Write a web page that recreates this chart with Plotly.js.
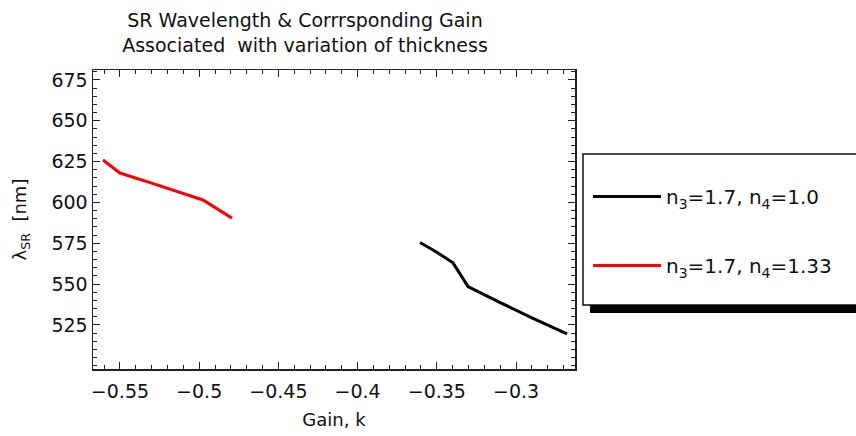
<!DOCTYPE html>
<html>
<head>
<meta charset="utf-8">
<script src="https://cdn.plot.ly/plotly-3.0.1.min.js"></script>
<style>html,body{margin:0;padding:0;background:#fff;}#chart{width:856px;height:436px;}</style>
</head>
<body>
<div id="chart"></div>
<script>
// Series: n3=1.7, n4=1.0 (black)
var gainA = [-0.3606, -0.35, -0.3398, -0.335, -0.3303, -0.31, -0.29, -0.2678];
var lambdaA = [575.5, 569.5, 563.0, 556.0, 548.5, 538.7, 529.3, 519.5];
// Series: n3=1.7, n4=1.33 (red)
var gainB = [-0.5607, -0.555, -0.55, -0.53, -0.51, -0.4976, -0.4793];
var lambdaB = [626.0, 621.5, 618.0, 611.8, 605.5, 601.5, 590.4];
var seriesNames = ['n<sub>3</sub>=1.7, n<sub>4</sub>=1.0', 'n<sub>3</sub>=1.7, n<sub>4</sub>=1.33'];
var xTickVals = [-0.55, -0.5, -0.45, -0.4, -0.35, -0.3];
var xTickText = ['\u22120.55', '\u22120.5', '\u22120.45', '\u22120.4', '\u22120.35', '\u22120.3'];
var yTickVals = [525, 550, 575, 600, 625, 650, 675];
var yTickText = ['525', '550', '575', '600', '625', '650', '675'];

var F = 'DejaVu Sans, sans-serif';
var traces = [
  {x: gainA, y: lambdaA, mode: 'lines', name: seriesNames[0], line: {color: '#000000', width: 3}, legendgroup: 'a'},
  {x: gainB, y: lambdaB, mode: 'lines', name: seriesNames[1], line: {color: '#ff0000', width: 3}, legendgroup: 'b'}
];
var W = 856, H = 436, L = 93, R = 281, T = 70, B = 67;
var pw = W - L - R, ph = H - T - B;
function px(xp) { return (xp - L) / pw; }
function py(yp) { return (H - B - yp) / ph; }
var layout = {
  width: W, height: H,
  margin: {l: L, r: R, t: T, b: B},
  paper_bgcolor: '#ffffff', plot_bgcolor: '#ffffff',
  font: {family: F, size: 19, color: '#111'},
  title: {text: 'SR Wavelength &amp; Corrrsponding Gain<br>Associated  with variation of thickness',
          font: {family: F, size: 19, color: '#111'},
          x: 305 / W, xref: 'container', xanchor: 'center',
          y: 1 - 27 / H, yref: 'container', yanchor: 'top'},
  xaxis: {range: [-0.567, -0.2628], tickvals: xTickVals, ticktext: xTickText,
          ticks: 'inside', ticklen: 7, tickwidth: 1, tickcolor: '#222',
          minor: {dtick: 0.01, tick0: -0.55, ticks: 'inside', ticklen: 4, tickcolor: '#222', showgrid: false},
          showline: true, linecolor: '#222', linewidth: 1.5, mirror: 'ticks',
          showgrid: false, zeroline: false, ticklabelstandoff: 5,
          tickfont: {family: F, size: 19, color: '#111'},
          title: {text: 'Gain, k', font: {family: F, size: 18, color: '#111'}, standoff: 12}},
  yaxis: {range: [498, 681.1], tickvals: yTickVals, ticktext: yTickText,
          ticks: 'inside', ticklen: 7, tickwidth: 1, tickcolor: '#222',
          minor: {dtick: 5, tick0: 500, ticks: 'inside', ticklen: 4, tickcolor: '#222', showgrid: false},
          showline: true, linecolor: '#222', linewidth: 1.5, mirror: 'ticks',
          showgrid: false, zeroline: false,
          tickfont: {family: F, size: 19, color: '#111'},
          title: {text: '\u03bb<sub>SR</sub>  [nm]', font: {family: F, size: 18, color: '#111'}, standoff: 20}},
  showlegend: true,
  legend: {x: px(588), xanchor: 'left', y: py(177), yanchor: 'top',
           bgcolor: 'rgba(0,0,0,0)', borderwidth: 0,
           font: {family: F, size: 20, color: '#111'},
           traceorder: 'grouped', tracegroupgap: 40, itemwidth: 68, itemclick: false},
  shapes: [
    {type: 'rect', xref: 'paper', yref: 'paper', x0: px(590), x1: px(880), y0: py(313), y1: py(162),
     fillcolor: '#000', line: {width: 0}, layer: 'below'},
    {type: 'rect', xref: 'paper', yref: 'paper', x0: px(583), x1: px(875), y0: py(305), y1: py(154),
     fillcolor: '#fff', line: {color: '#111', width: 1.5}, layer: 'below'}
  ]
};
Plotly.newPlot('chart', traces, layout, {displayModeBar: false, staticPlot: true});
</script>
</body>
</html>
